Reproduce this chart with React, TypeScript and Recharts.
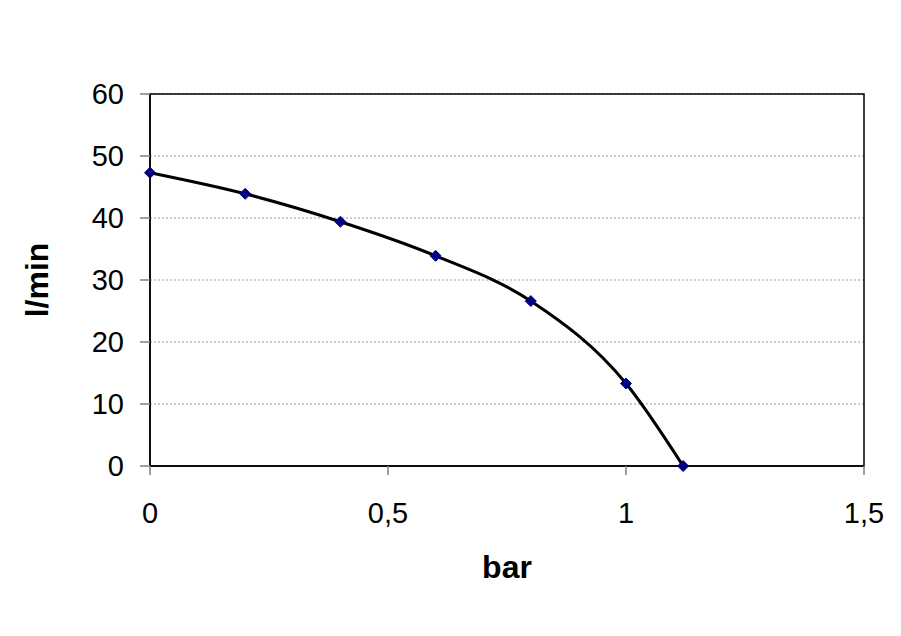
import { LineChart, Line, XAxis, YAxis, CartesianGrid, ReferenceArea } from 'recharts';

const pressure = [0, 0.2, 0.4, 0.6, 0.8, 1.0, 1.12];
const flow = [47.3, 43.9, 39.4, 33.9, 26.6, 13.3, 0];
const xTicks = [0, 0.5, 1, 1.5];
const yTicks = [0, 10, 20, 30, 40, 50, 60];

const data = pressure.map((p, i) => ({ bar: p, flow: flow[i] }));

const FONT = 'Arial, "Liberation Sans", sans-serif';

const Diamond = (props: any) => {
  const { cx, cy } = props;
  if (cx == null || cy == null) return null;
  const r = 5.5;
  return (
    <polygon
      points={`${cx},${cy - r} ${cx + r},${cy} ${cx},${cy + r} ${cx - r},${cy}`}
      fill="#000080"
      stroke="#000080"
      strokeWidth={1}
    />
  );
};

export default function App() {
  return (
    <div style={{ position: 'absolute', left: 0, top: 0, width: 901, height: 636, background: '#fff' }}>
      <LineChart
        width={901}
        height={636}
        data={data}
        margin={{ top: 94, right: 37, left: 0, bottom: 0 }}
        style={{ fontFamily: FONT }}
      >
        <CartesianGrid vertical={false} horizontal stroke="#9a9a9a" strokeDasharray="2 2" />
        <ReferenceArea x1={0} x2={1.5} y1={0} y2={60} fill="none" stroke="#000" strokeWidth={1.5} ifOverflow="visible" />
        <XAxis
          dataKey="bar"
          type="number"
          domain={[0, 1.5]}
          ticks={xTicks}
          height={170}
          tickSize={9}
          tickMargin={27}
          tickFormatter={(v: number) => String(v).replace('.', ',')}
          tick={{ fill: '#000', fontSize: 29, fontFamily: FONT }}
          axisLine={{ stroke: '#000', strokeWidth: 1.5 }}
          tickLine={{ stroke: '#808080', strokeWidth: 1.5 }}
          label={{
            value: 'bar',
            position: 'insideBottom',
            offset: 58,
            style: { fill: '#000', fontSize: 32, fontWeight: 'bold', fontFamily: FONT },
          }}
        />
        <YAxis
          type="number"
          domain={[0, 60]}
          ticks={yTicks}
          width={150}
          tickSize={10}
          tickMargin={16}
          tick={{ fill: '#000', fontSize: 29, fontFamily: FONT }}
          axisLine={{ stroke: '#000', strokeWidth: 1.5 }}
          tickLine={{ stroke: '#808080', strokeWidth: 1.5 }}
          label={{
            value: 'l/min',
            angle: -90,
            position: 'insideLeft',
            offset: 37,
            style: { fill: '#000', fontSize: 32, fontWeight: 'bold', fontFamily: FONT, textAnchor: 'middle' },
          }}
        />
        <Line
          type="monotone"
          dataKey="flow"
          stroke="#000"
          strokeWidth={3}
          dot={<Diamond />}
          activeDot={false}
          isAnimationActive={false}
        />
      </LineChart>
    </div>
  );
}
